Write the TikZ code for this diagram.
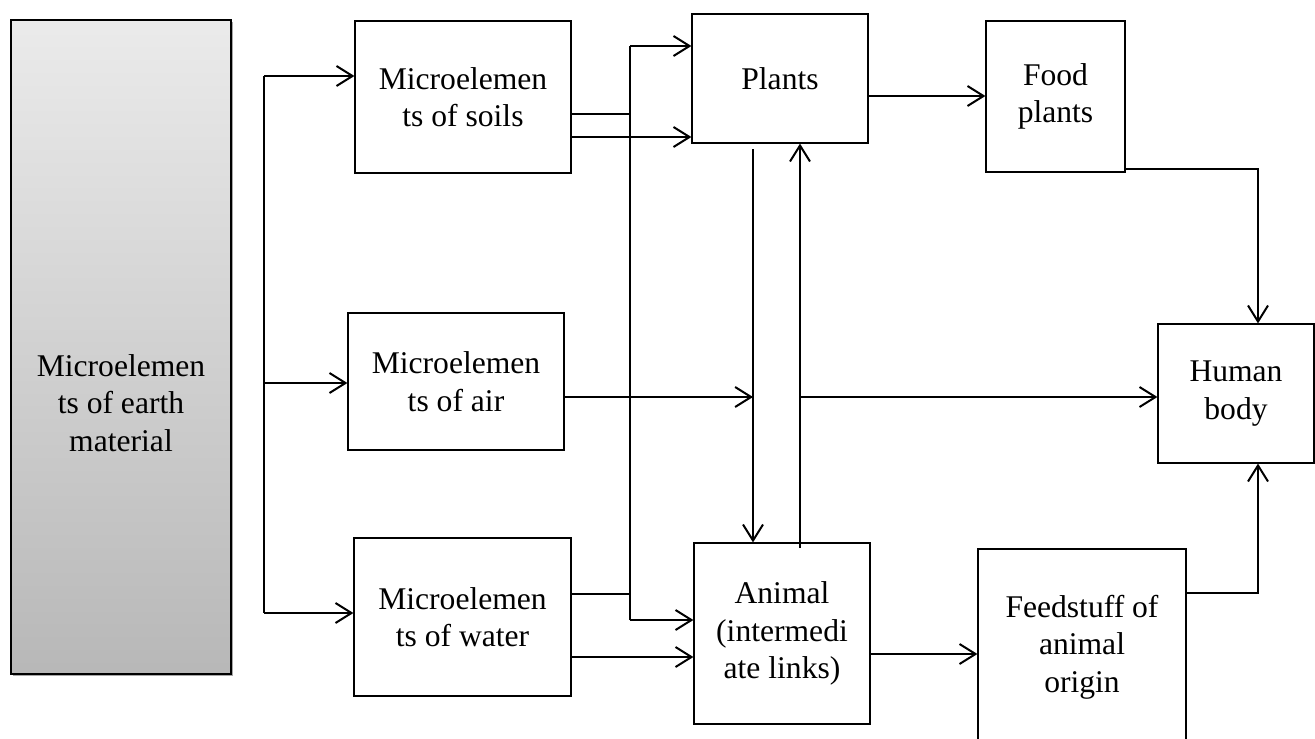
\documentclass[tikz,border=0pt]{standalone}
\usepackage{fontspec}
\setmainfont{Liberation Serif}
\usetikzlibrary{arrows.meta,shadows}
\begin{document}
\begin{tikzpicture}[x=0.5pt,y=-0.5pt,
  txt/.style={align=center, font=\fontsize{15.8}{18.8}\selectfont},
  box/.style={txt, draw=black, line width=0.6pt, inner sep=0pt},
  conn/.style={line width=1pt},
  arr/.style={conn, -{Straight Barb[length=8pt,width=10pt]}},
  thk/.style={line width=1.4pt}]
\useasboundingbox (0,0) rectangle (1315,738);
\clip (0,0) rectangle (1315,738);

% boxes
\node[box, minimum width=110pt, minimum height=327pt, line width=1pt,
      top color=black!8, bottom color=black!28,
      general shadow={fill=black!35, shadow xshift=1pt, shadow yshift=-1pt}] (earth) at (121,347) {};
\node[txt] (earthtxt) at (121,403) {Microelemen\\ts of earth\\material};
\node[box, minimum width=108pt, minimum height=76pt] (soils) at (463,97) {Microelemen\\ts of soils};
\node[box, minimum width=108pt, minimum height=68.5pt] (air) at (456,381.5) {Microelemen\\ts of air};
\node[box, minimum width=108.5pt, minimum height=79pt] (water) at (462.5,617) {Microelemen\\ts of water};
\node[box, minimum width=88pt, minimum height=64.5pt] (plants) at (780,78.5) {Plants};
\node[box, minimum width=69.5pt, minimum height=75.5pt] (food) at (1055.5,96.5) {Food\\plants};
\node[box, minimum width=78pt, minimum height=69.5pt] (human) at (1236,393.5) {Human\\body};
\node[box, minimum width=88pt, minimum height=90.5pt] (animal) at (782,633.5) {Animal\\(intermedi\\ate links)};
\node[box, minimum width=104pt, minimum height=98pt] (feed) at (1082,647) {Feedstuff of\\animal\\origin};

% bus from the left
\coordinate (busT) at (264,76);
\coordinate (busM) at (264,383);
\coordinate (busB) at (264,613);
\draw[conn] (busT) -- (busB);
\draw[arr] (busT) -- (soils.west |- busT);
\draw[arr] (busM) -- (air.west |- busM);
\draw[arr] (busB) -- (water.west |- busB);

% soils outputs
\coordinate (jA) at (630,114);
\coordinate (s2) at (691,137);
\draw[conn] (soils.east |- jA) -- (jA);
\draw[arr] (soils.east |- s2) -- (plants.west |- s2);

% water outputs and the thick riser
\coordinate (jtop) at (630,46);
\coordinate (jbot) at (630,620);
\coordinate (jw) at (630,594);
\coordinate (w2) at (700,657);
\draw[thk] (water.east |- jw) -- (jw);
\draw[thk] (jbot) -- (jtop);
\draw[arr] (jtop) -- (plants.west |- jtop);
\draw[arr] (jbot) -- (animal.west |- jbot);
\draw[arr] (water.east |- w2) -- (animal.west |- w2);

% air and the two vertical links
\coordinate (dn) at (753,149);
\coordinate (up) at (800,548);
\coordinate (a1) at (753,397);
\coordinate (a2) at (800,397);
\draw[arr] (air.east |- a1) -- (a1);
\draw[arr] (a2) -- (human.west |- a2);
\draw[arr] (dn) -- (animal.north -| dn);
\draw[arr] (up) -- (plants.south -| up);

% right side
\coordinate (pf) at (900,96);
\coordinate (fh) at (1258,169);
\coordinate (af) at (900,654);
\coordinate (fd) at (1258,593);
\draw[arr] (plants.east |- pf) -- (food.west |- pf);
\draw[arr] (food.east |- fh) -- (fh) -- (human.north -| fh);
\draw[arr] (animal.east |- af) -- (feed.west |- af);
\draw[arr] (feed.east |- fd) -- (fd) -- (human.south -| fd);
\end{tikzpicture}
\end{document}
